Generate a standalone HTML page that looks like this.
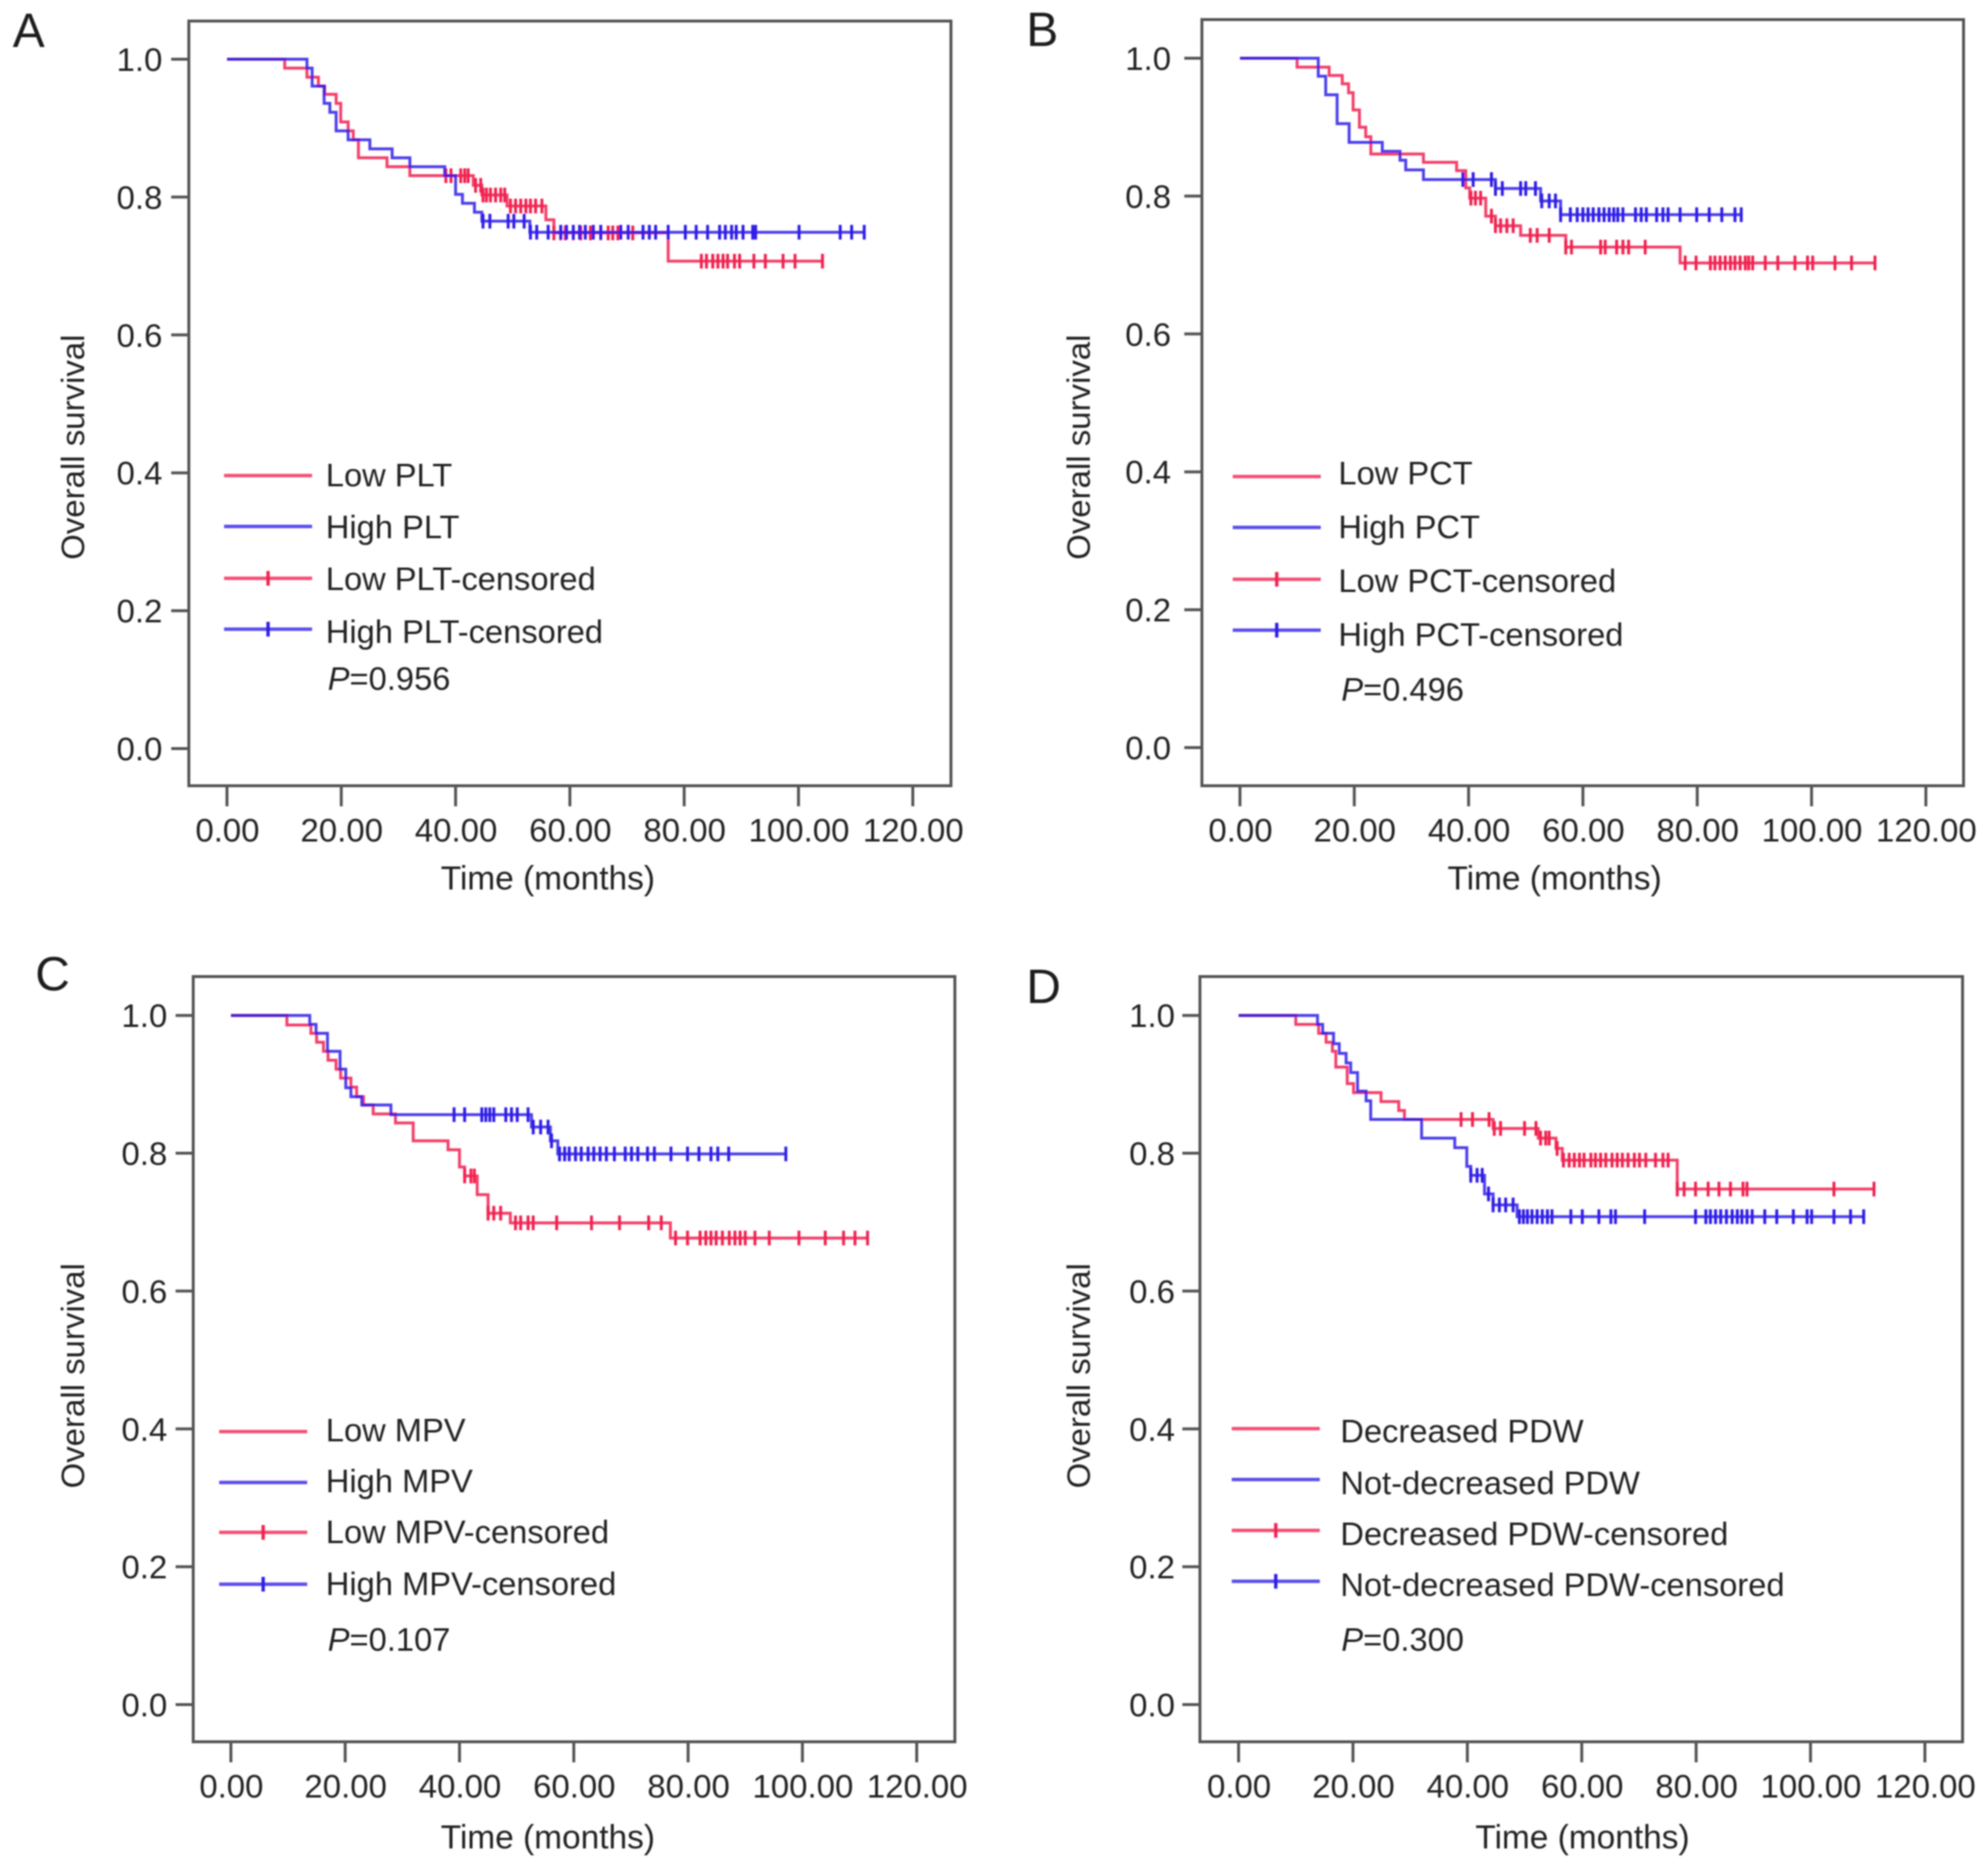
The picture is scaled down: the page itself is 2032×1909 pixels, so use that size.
<!DOCTYPE html>
<html lang="en">
<head>
<meta charset="utf-8">
<title>Overall survival by platelet parameters</title>
<style>
html,body{margin:0;padding:0;background:#fff;width:2032px;height:1909px;overflow:hidden}
svg{display:block}
text{font-family:"Liberation Sans",Arial,sans-serif;fill:#222}
</style>
</head>
<body>
<svg id="figure" xmlns="http://www.w3.org/2000/svg" width="2032" height="1909" viewBox="0 0 2032 1909">
<defs><filter id="soft" x="-2%" y="-2%" width="104%" height="104%"><feGaussianBlur stdDeviation="0.7"/></filter></defs>
<rect width="2032" height="1909" fill="#fff"/>
<g id="root" filter="url(#soft)"></g>
</svg>
<script>
// Shared axis values
const xTickValues = [0, 20, 40, 60, 80, 100, 120];
const xTickLabels = ['0.00', '20.00', '40.00', '60.00', '80.00', '100.00', '120.00'];
const yTickValues = [0, 0.2, 0.4, 0.6, 0.8, 1];
const yTickLabels = ['0.0', '0.2', '0.4', '0.6', '0.8', '1.0'];

// Panel A
const aLowTimes = [10.1, 14.0, 16.0, 17.1, 19.1, 19.9, 21.2, 22.1, 23.0, 28.0, 32.0, 43.1, 44.6, 49.0, 55.8, 57.2, 77.2];
const aLowSurv = [.987, .974, .961, .949, .936, .909, .896, .883, .857, .844, .831, .817, .803, .787, .767, .748, .707];
const aHighTimes = [14.0, 14.9, 17.0, 18.0, 19.1, 21.2, 25.0, 28.9, 32.0, 38.1, 40.0, 41.2, 43.3, 44.6, 53.0];
const aHighSurv = [.987, .961, .936, .923, .896, .883, .870, .857, .844, .831, .804, .791, .778, .765, .749];
const aLowCensored = [38.3, 39.2, 40.9, 41.6, 42.2, 43.5, 44.4, 44.8, 45.4, 46.1, 47.0, 47.9, 48.6, 49.6, 50.5, 51.4, 52.3, 53.1, 54.0, 55.1, 57.2, 58.4, 59.2, 60.6, 61.9, 63.6, 65.4, 66.7, 67.5, 68.4, 71.0, 83.0, 83.9, 85.0, 85.9, 86.8, 87.6, 88.8, 89.7, 92.2, 94.2, 97.3, 99.4, 104.2];
const aHighCensored = [44.8, 46.0, 49.2, 50.2, 52.0, 53.1, 54.2, 56.2, 58.4, 59.4, 60.6, 61.7, 62.7, 64.1, 65.4, 68.9, 70.2, 72.8, 73.9, 75.0, 77.2, 80.2, 82.1, 84.1, 86.2, 87.2, 88.3, 89.1, 90.3, 92.0, 92.5, 100.1, 107.3, 109.3, 111.5];

// Panel B
const bLowTimes = [10.0, 15.6, 17.9, 19.0, 19.8, 20.9, 22.0, 22.9, 32.1, 37.9, 39.5, 40.2, 43.0, 44.7, 49.1, 57.0, 77.0];
const bLowSurv = [.987, .975, .963, .950, .925, .900, .886, .861, .849, .837, .812, .797, .771, .757, .743, .726, .703];
const bHighTimes = [13.7, 15.0, 17.0, 19.1, 24.9, 28.0, 29.0, 32.1, 44.7, 52.6, 56.1];
const bHighSurv = [.974, .947, .905, .878, .865, .852, .838, .824, .811, .793, .773];
const bLowCensored = [40.4, 41.2, 42.1, 44.0, 44.7, 45.6, 46.7, 47.8, 50.8, 52.0, 54.1, 57.0, 58.0, 63.1, 63.9, 65.9, 67.0, 68.0, 70.9, 77.9, 79.8, 82.3, 83.1, 84.0, 84.9, 85.8, 86.6, 87.5, 88.4, 89.0, 89.7, 91.9, 94.1, 97.1, 99.3, 100.2, 104.1, 107.0, 111.1];
const bHighCensored = [39.0, 40.8, 44.0, 44.7, 45.9, 49.1, 50.0, 51.7, 52.8, 54.1, 55.2, 56.1, 57.8, 59.0, 60.0, 60.9, 61.8, 62.8, 63.7, 64.6, 65.4, 66.1, 67.0, 69.2, 70.2, 71.1, 72.9, 74.0, 74.9, 77.0, 79.9, 82.1, 84.3, 86.6, 87.7];

// Panel C
const cLowTimes = [9.8, 14.0, 15.0, 16.2, 17.0, 18.4, 19.2, 21.0, 22.0, 23.2, 24.9, 28.8, 31.9, 38.0, 40.0, 40.9, 43.1, 45.0, 48.9, 76.9];
const cLowSurv = [.986, .974, .961, .948, .935, .922, .909, .896, .882, .870, .857, .844, .818, .805, .780, .767, .740, .713, .699, .677];
const cHighTimes = [13.8, 14.9, 16.9, 19.1, 20.1, 21.0, 22.9, 28.0, 52.6, 55.9, 57.2];
const cHighSurv = [.987, .974, .948, .922, .895, .882, .870, .856, .838, .818, .799];
const cLowCensored = [40.9, 42.0, 42.6, 45.0, 46.0, 47.2, 49.8, 50.7, 52.0, 52.9, 57.0, 63.1, 68.0, 73.1, 75.3, 77.8, 79.9, 82.1, 83.1, 84.0, 84.9, 86.0, 87.2, 88.2, 89.1, 90.0, 91.7, 94.2, 99.4, 104.0, 107.2, 109.2, 111.4];
const cHighCensored = [39.05, 40.9, 43.9, 44.6, 45.3, 46.0, 48.1, 49.1, 50.1, 52.0, 52.9, 54.2, 55.5, 56.1, 57.5, 58.4, 59.2, 60.3, 61.3, 62.5, 63.5, 64.6, 65.7, 67.1, 69.0, 70.1, 71.2, 72.9, 74.1, 77.0, 79.9, 81.9, 84.0, 85.2, 87.1, 97.1];

// Panel D
const dLowTimes = [10.0, 14.0, 15.3, 16.4, 17.0, 19.0, 20.1, 24.9, 28.0, 29.0, 44.5, 52.4, 55.5, 56.6, 76.7];
const dLowSurv = [.987, .974, .961, .948, .925, .901, .888, .875, .862, .849, .836, .822, .807, .790, .748];
const dHighTimes = [13.8, 14.7, 16.6, 17.6, 18.8, 19.6, 20.8, 22.3, 23.1, 32.0, 37.8, 39.9, 40.6, 43.0, 44.5, 48.7];
const dHighSurv = [.987, .974, .959, .945, .931, .917, .890, .876, .849, .822, .808, .781, .768, .741, .725, .708];
const dLowCensored = [38.9, 40.9, 43.8, 44.7, 45.8, 50.0, 52.0, 52.8, 53.7, 54.3, 55.7, 56.8, 57.8, 58.7, 59.6, 60.4, 61.6, 62.4, 63.3, 64.2, 65.3, 66.2, 67.1, 68.1, 69.2, 70.1, 71.2, 72.9, 74.2, 75.1, 76.7, 77.9, 79.9, 82.1, 84.0, 86.0, 88.2, 88.9, 104.1, 111.1];
const dHighCensored = [40.6, 41.7, 42.6, 43.7, 44.5, 45.6, 46.7, 48.0, 49.1, 49.8, 50.5, 51.3, 52.2, 53.1, 54.0, 54.8, 58.1, 60.1, 63.0, 65.1, 65.9, 71.0, 79.9, 81.7, 82.5, 83.4, 84.3, 85.3, 86.3, 87.2, 88.0, 88.9, 89.8, 92.0, 94.1, 97.0, 99.4, 100.2, 104.1, 107.0, 109.3];

const RED = '#f0204f';
const BLUE = '#2f1fe6';
const INK = '#555555';
const NS = 'http://www.w3.org/2000/svg';
const root = document.getElementById('root');

function make(tag, parent, attrs, text) {
  const node = document.createElementNS(NS, tag);
  for (const k in attrs) node.setAttribute(k, attrs[k]);
  if (text !== undefined) node.textContent = text;
  parent.appendChild(node);
  return node;
}

function levelAt(times, surv, t) {
  let s = 1;
  for (let i = 0; i < times.length; i++) { if (times[i] <= t) s = surv[i]; }
  return s;
}

function drawSeries(g, sx, sy, times, surv, censored, color, key) {
  const last = Math.max(times[times.length - 1], censored[censored.length - 1]);
  let d = 'M' + sx(0) + ' ' + sy(1);
  for (let i = 0; i < times.length; i++) {
    d += 'H' + sx(times[i]) + 'V' + sy(surv[i]);
  }
  d += 'H' + sx(last);
  const line = make('path', g, {d: d, fill: 'none', stroke: color, 'stroke-width': 3, 'stroke-opacity': 0.85});
  
  
  censored.forEach(function (t) {
    const y = sy(levelAt(times, surv, t));
    const mark = make('path', g, {d: 'M' + sx(t) + ' ' + (y - 7.5) + 'V' + (y + 7.5), stroke: color, 'stroke-width': 3, fill: 'none'});
    
    
  });
}

function drawPanel(p) {
  const g = make('g', root, {});
  
  

  const sx = function (t) { return +(p.x0 + (p.x120 - p.x0) * t / 120).toFixed(2); };
  const sy = function (s) { return +(p.y0 + (p.y1 - p.y0) * s).toFixed(2); };

  const tag = make('text', g, {x: p.tagX, y: p.tagY, 'font-size': 49, style: 'fill:#1c1c1c'}, p.letter);
  
  

  const frame = make('rect', g, {x: p.left, y: p.top, width: p.right - p.left, height: p.bottom - p.top, fill: 'none', stroke: INK, 'stroke-width': 3});
  
  

  xTickValues.forEach(function (v, i) {
    const tick = make('line', g, {x1: sx(v), x2: sx(v), y1: p.bottom, y2: p.bottom + 21, stroke: INK, 'stroke-width': 3});
    
    
    const label = make('text', g, {x: sx(v) + 0.5, y: p.bottom + 57, 'font-size': 33.7, 'text-anchor': 'middle'}, xTickLabels[i]);
    
    
  });

  yTickValues.forEach(function (v, i) {
    const tick = make('line', g, {x1: p.left - 18, x2: p.left, y1: sy(v), y2: sy(v), stroke: INK, 'stroke-width': 3});
    
    
    const label = make('text', g, {x: p.labelRight, y: sy(v) + 12, 'font-size': 33.7, 'text-anchor': 'end'}, yTickLabels[i]);
    
    
  });

  const xTitle = make('text', g, {x: p.xTitleX, y: p.xTitleY, 'font-size': 34.2, 'text-anchor': 'middle'}, 'Time (months)');
  
  

  const yTitle = make('text', g, {transform: 'translate(' + p.yTitleX + ' ' + p.yTitleY + ') rotate(-90)', 'font-size': 33.7, 'text-anchor': 'middle'}, 'Overall survival');
  
  

  drawSeries(g, sx, sy, p.lowTimes, p.lowSurv, p.lowCensored, RED, 'low');
  drawSeries(g, sx, sy, p.highTimes, p.highSurv, p.highCensored, BLUE, 'high');

  p.legendLabels.forEach(function (text, i) {
    const color = i % 2 === 0 ? RED : BLUE;
    const y = p.legendLineY[i];
    const swatch = make('line', g, {x1: p.legX1, x2: p.legX2, y1: y, y2: y, stroke: color, 'stroke-width': 3.4, 'stroke-opacity': 0.8});
    
    
    if (i >= 2) {
      const mx = (p.legX1 + p.legX2) / 2;
      const dot = make('line', g, {x1: mx, x2: mx, y1: y - 7.5, y2: y + 7.5, stroke: color, 'stroke-width': 3.4});
      
      
    }
    const entry = make('text', g, {x: p.legTextX, y: p.legendTextY[i], 'font-size': 33.4}, text);
    
    
  });

  const pText = make('text', g, {x: p.pX, y: p.pY, 'font-size': 33.4});
  
  
  make('tspan', pText, {'font-style': 'italic'}, 'P');
  make('tspan', pText, {}, '=' + p.pValue);
}

drawPanel({letter: 'A', tagX: 13, tagY: 48,
  left: 193, right: 972, top: 21.5, bottom: 803,
  x0: 232, x120: 933, y1: 60.5, y0: 765,
  labelRight: 166, xTitleX: 560, xTitleY: 909, yTitleX: 86, yTitleY: 457,
  lowTimes: aLowTimes, lowSurv: aLowSurv, lowCensored: aLowCensored,
  highTimes: aHighTimes, highSurv: aHighSurv, highCensored: aHighCensored,
  legendLabels: ['Low PLT', 'High PLT', 'Low PLT-censored', 'High PLT-censored'],
  legendLineY: [486, 538, 591, 643], legendTextY: [497, 550, 603, 657],
  legX1: 229, legX2: 319, legTextX: 333, pX: 335, pY: 705, pValue: '0.956'});

drawPanel({letter: 'B', tagX: 1049, tagY: 47,
  left: 1228.5, right: 2007, top: 20, bottom: 803,
  x0: 1267.4, x120: 1968.5, y1: 59.5, y0: 764,
  labelRight: 1197, xTitleX: 1589, xTitleY: 909, yTitleX: 1114, yTitleY: 457,
  lowTimes: bLowTimes, lowSurv: bLowSurv, lowCensored: bLowCensored,
  highTimes: bHighTimes, highSurv: bHighSurv, highCensored: bHighCensored,
  legendLabels: ['Low PCT', 'High PCT', 'Low PCT-censored', 'High PCT-censored'],
  legendLineY: [487, 539, 592, 644], legendTextY: [495, 550, 605, 660],
  legX1: 1260, legX2: 1350, legTextX: 1368, pX: 1371, pY: 716, pValue: '0.496'});

drawPanel({letter: 'C', tagX: 36, tagY: 1012,
  left: 197.5, right: 976, top: 998, bottom: 1780,
  x0: 236, x120: 937, y1: 1037.7, y0: 1742,
  labelRight: 171, xTitleX: 560, xTitleY: 1889, yTitleX: 86, yTitleY: 1406,
  lowTimes: cLowTimes, lowSurv: cLowSurv, lowCensored: cLowCensored,
  highTimes: cHighTimes, highSurv: cHighSurv, highCensored: cHighCensored,
  legendLabels: ['Low MPV', 'High MPV', 'Low MPV-censored', 'High MPV-censored'],
  legendLineY: [1463, 1515, 1566, 1619], legendTextY: [1473, 1525, 1577, 1630],
  legX1: 224, legX2: 314, legTextX: 333, pX: 335, pY: 1687, pValue: '0.107'});

drawPanel({letter: 'D', tagX: 1049, tagY: 1025,
  left: 1226.5, right: 2006, top: 998, bottom: 1780,
  x0: 1266, x120: 1967.5, y1: 1037.7, y0: 1742,
  labelRight: 1201, xTitleX: 1617.5, xTitleY: 1889, yTitleX: 1114, yTitleY: 1406,
  lowTimes: dLowTimes, lowSurv: dLowSurv, lowCensored: dLowCensored,
  highTimes: dHighTimes, highSurv: dHighSurv, highCensored: dHighCensored,
  legendLabels: ['Decreased PDW', 'Not-decreased PDW', 'Decreased PDW-censored', 'Not-decreased PDW-censored'],
  legendLineY: [1460, 1512, 1564, 1616], legendTextY: [1474, 1527, 1579, 1631],
  legX1: 1259, legX2: 1349, legTextX: 1370, pX: 1371, pY: 1687, pValue: '0.300'});
</script>
</body>
</html>
